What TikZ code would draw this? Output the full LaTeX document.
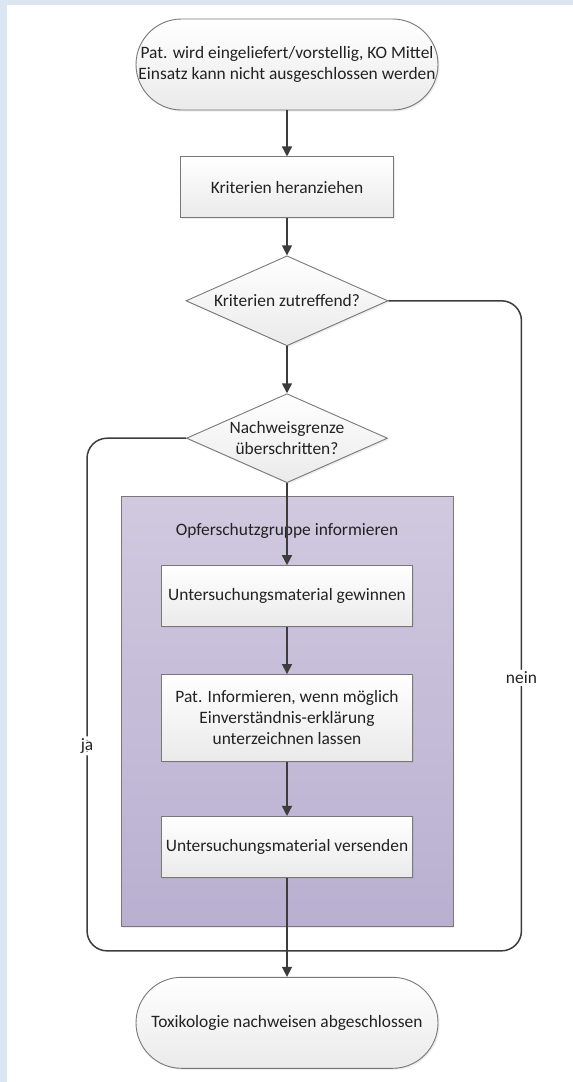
\documentclass[tikz,border=0pt]{standalone}
\usepackage{fontspec}
\setmainfont{Carlito}
\usepackage{tikz}
\usetikzlibrary{arrows.meta,positioning,calc,shapes.geometric,shadows,fit,backgrounds}
\definecolor{frameblue}{RGB}{220,230,242}
\definecolor{linegray}{RGB}{60,60,60}
\definecolor{bordergray}{RGB}{120,120,120}
\definecolor{textgray}{RGB}{34,34,34}
\definecolor{boxbot}{RGB}{234,234,234}
\definecolor{purpletop}{RGB}{208,201,223}
\definecolor{purplebot}{RGB}{185,176,209}

\begin{document}
\begin{tikzpicture}[x=1pt,y=1pt,
    font=\fontsize{17.4}{21}\selectfont, text=textgray,
    base/.style={draw=bordergray,line width=0.9pt,top color=white,bottom color=boxbot,
      drop shadow={opacity=0.15,shadow xshift=1.5pt,shadow yshift=-1.5pt}},
    terminal/.style={base,rectangle,rounded corners=45.5pt,minimum width=302pt,minimum height=91pt,inner sep=0pt,align=center},
    process/.style={base,rectangle,minimum width=251pt,minimum height=61pt,align=center},
    decision/.style={base,diamond,minimum width=202pt,minimum height=90pt,inner sep=0pt},
    group/.style={draw=bordergray,line width=0.9pt,top color=purpletop,bottom color=purplebot,inner sep=0pt,
      drop shadow={opacity=0.15,shadow xshift=1.5pt,shadow yshift=-1.5pt}},
    flow/.style={draw=linegray,line width=1.5pt,-{Triangle[width=10pt,length=10pt]}},
    loopline/.style={draw=linegray,line width=1.5pt,rounded corners=20pt},
    answer/.style={fill=white,inner sep=2pt}]

  \useasboundingbox (0,0) rectangle (573,-1082);
  \begin{scope}[on background layer]
    \fill[frameblue] (0,0) rectangle (573,-1082);
    \fill[white] (7,-5) rectangle (573,-1082);
  \end{scope}

  % main column
  \node[terminal] (start) at (287,-64.5) {Pat. wird eingeliefert/vorstellig, KO Mittel\\Einsatz kann nicht ausgeschlossen werden};
  \node[process, minimum width=213pt, below=46pt of start] (crit) {Kriterien heranziehen};
  \node[decision, below=37pt of crit, label=center:{Kriterien zutreffend?}] (zutreffend) {};
  \node[decision, minimum width=201pt, minimum height=89pt, below=47pt of zutreffend,
        label={[align=center]center:Nachweisgrenze\\überschritten?}] (nachweis) {};
  \node[process, below=82pt of nachweis] (gewinnen) {Untersuchungsmaterial gewinnen};
  \node[process, minimum height=87pt, below=47pt of gewinnen] (aufklaeren) {Pat. Informieren, wenn möglich\\Einverständnis-erklärung\\unterzeichnen lassen};
  \node[process, below=54pt of aufklaeren] (versenden) {Untersuchungsmaterial versenden};
  \node[terminal, below=99pt of versenden] (ende) {Toxikologie nachweisen abgeschlossen};

  % group behind the three steps
  \begin{scope}[on background layer]
    \node[group, fit={($(gewinnen.north west)+(-40pt,69pt)$) ($(versenden.south east)+(40pt,-49pt)$)},
          label={[below=24pt]north:Opferschutzgruppe informieren}] (opferschutz) {};
  \end{scope}

  % connectors
  \draw[flow] (start) -- (crit);
  \draw[flow] (crit) -- (zutreffend);
  \draw[flow] (zutreffend) -- (nachweis);
  \draw[flow] (nachweis) -- (gewinnen);
  \draw[flow] (gewinnen) -- (aufklaeren);
  \draw[flow] (aufklaeren) -- (versenden);
  \draw[flow] (versenden) -- (ende);
  \coordinate (merge) at ($(ende.north)+(0,26pt)$);
  \draw[loopline] (zutreffend.east) -- ++(133pt,0) |- (merge) node[answer,pos=0.29] {nein};
  \draw[loopline] (nachweis.west) -- ++(-99pt,0) |- (merge) node[answer,pos=0.3] {ja};
\end{tikzpicture}
\end{document}
